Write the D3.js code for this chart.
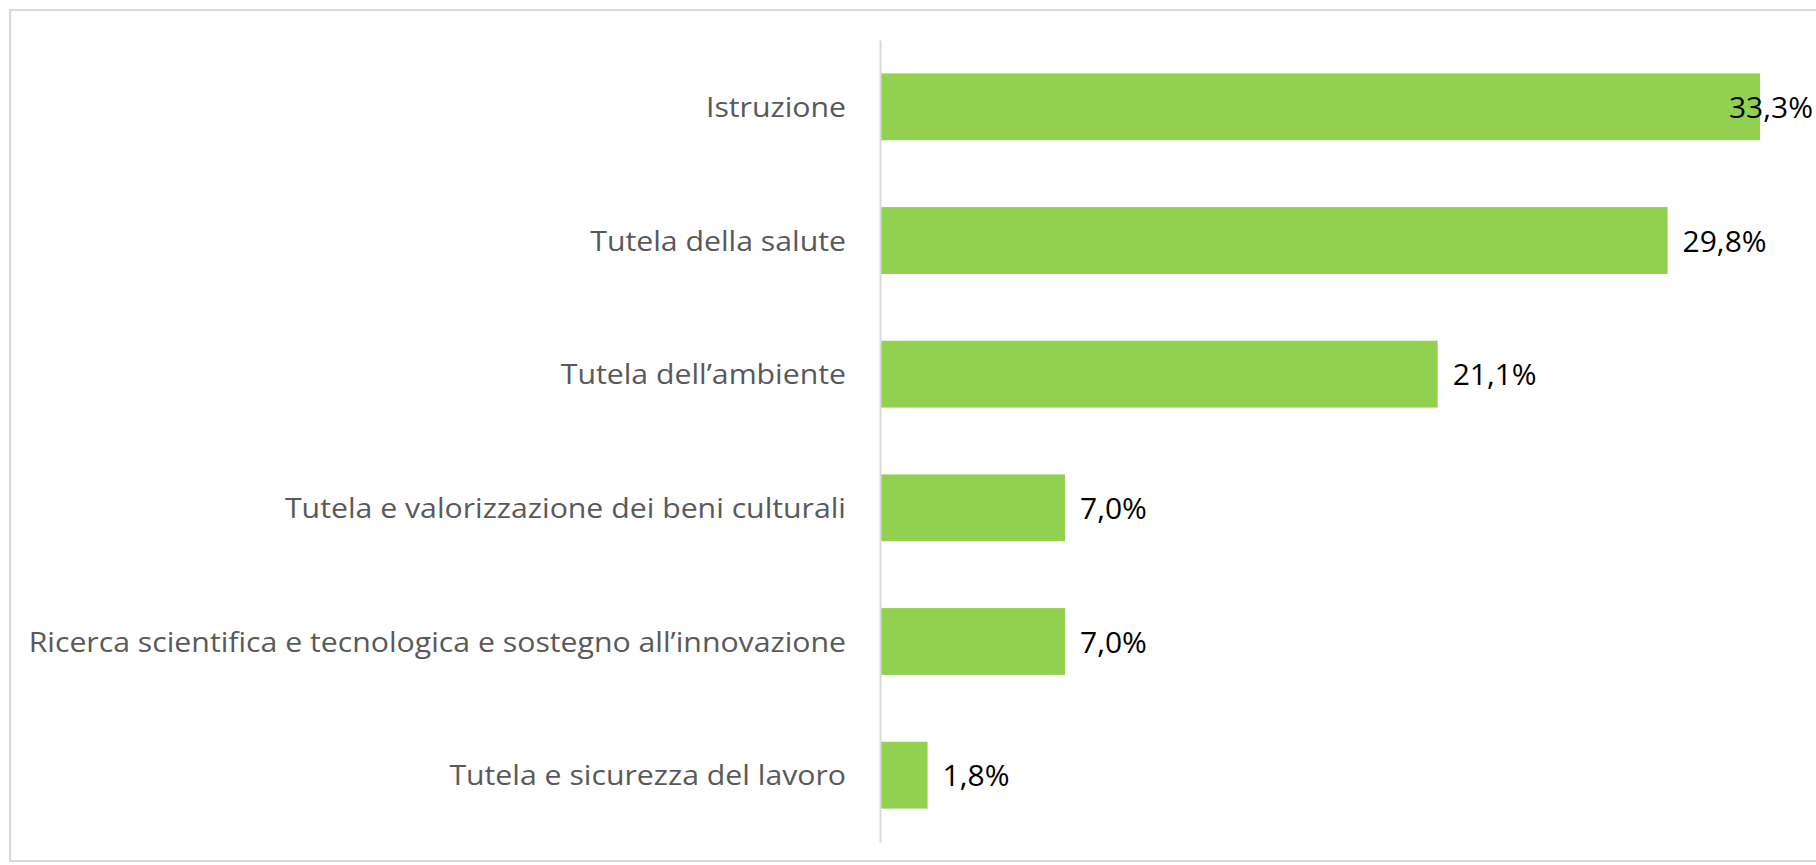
<!DOCTYPE html>
<html>
<head>
<meta charset="utf-8">
<script src="https://cdn.jsdelivr.net/npm/d3@7"></script>
<style>
  html, body { margin: 0; padding: 0; background: #fff; overflow: hidden; }
</style>
</head>
<body>
<div id="chart"></div>
<script>
// dati
const categories = [
  "Istruzione",
  "Tutela della salute",
  "Tutela dell\u2019ambiente",
  "Tutela e valorizzazione dei beni culturali",
  "Ricerca scientifica e tecnologica e sostegno all\u2019innovazione",
  "Tutela e sicurezza del lavoro"
];
const values = [33.3, 29.8, 21.1, 7.0, 7.0, 1.8];
const xMax = 35;

const W = 1816, H = 865;
const margin = { top: 40, right: 11, bottom: 23, left: 880 };

const svg = d3.select("#chart")
  .append("svg")
  .attr("width", W)
  .attr("height", H);

// cornice del grafico
svg.append("rect")
  .attr("x", 10)
  .attr("y", 10)
  .attr("width", W + 20)
  .attr("height", 851)
  .attr("fill", "none")
  .attr("stroke", "#d9d9d9")
  .attr("stroke-width", 2);

const x = d3.scaleLinear()
  .domain([0, xMax])
  .range([margin.left, W - margin.right]);

const y = d3.scaleBand()
  .domain(categories)
  .range([margin.top, H - margin.bottom])
  .paddingInner(0.5)
  .paddingOuter(0.25);

// barre
svg.selectAll(".bar")
  .data(categories)
  .enter()
  .append("rect")
  .attr("class", "bar")
  .attr("x", x(0))
  .attr("y", d => y(d))
  .attr("width", (d, i) => x(values[i]) - x(0))
  .attr("height", y.bandwidth())
  .attr("fill", "#92d050");

// asse verticale
const yAxis = svg.append("g")
  .attr("transform", `translate(${x(0)},0)`)
  .call(d3.axisLeft(y).tickSize(0).tickPadding(34));

yAxis.select(".domain")
  .attr("stroke", "#d9d9d9")
  .attr("stroke-width", 2);

const labels = yAxis.selectAll(".tick text")
  .attr("fill", "#595959")
  .style("font-family", "'Open Sans', sans-serif")
  .style("font-size", "28px")
  .attr("dy", "0.36em");

// restringe le etichette per avvicinarsi alla larghezza di Calibri
let maxW = 0;
labels.each(function() { maxW = Math.max(maxW, this.getComputedTextLength()); });
const k = 818 / maxW;
labels.attr("transform", `translate(-34,0) scale(${k},1)`).attr("x", 0);

// etichette valori
const fmt = v => d3.format(".1f")(v).replace(".", ",") + "%";
svg.selectAll(".val")
  .data(categories)
  .enter()
  .append("text")
  .attr("class", "val")
  .attr("y", d => y(d) + y.bandwidth() / 2)
  .attr("dy", "0.37em")
  .style("font-family", "'Open Sans', sans-serif")
  .style("font-size", "30px")
  .attr("fill", "#000")
  .text((d, i) => fmt(values[i]))
  .attr("x", function(d, i) {
    const len = this.getComputedTextLength();
    return Math.min(x(values[i]) + 15, W - len - 3);
  });
</script>
</body>
</html>
